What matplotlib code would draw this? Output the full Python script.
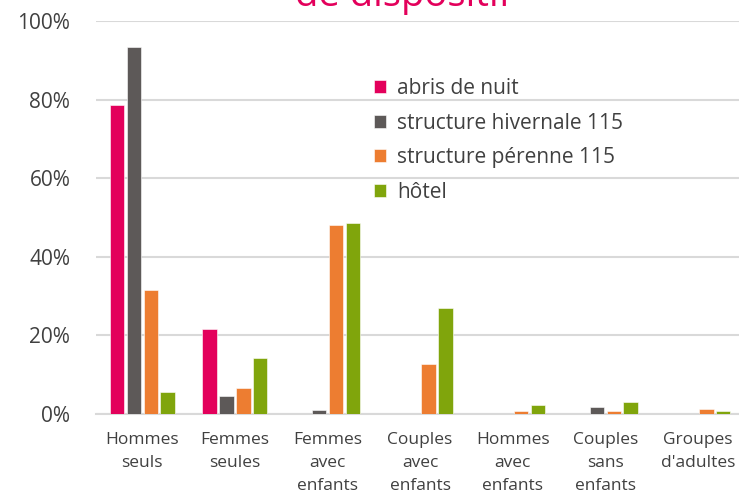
import numpy as np
import matplotlib.pyplot as plt

plt.rcParams['font.family'] = ['Open Sans', 'DejaVu Sans']

# categories and series (share of each household type by type of shelter)
categories = ['Hommes\nseuls', 'Femmes\nseules', 'Femmes\navec\nenfants', 'Couples\navec\nenfants',
              'Hommes\navec\nenfants', 'Couples\nsans\nenfants', 'Groupes\nd\'adultes']
series_names = ['abris de nuit', 'structure hivernale 115', 'structure pérenne 115', 'hôtel']
abris_nuit = [78.6, 21.6, 0.0, 0.0, 0.0, 0.0, 0.0]
hivernale_115 = [93.3, 4.7, 0.9, 0.0, 0.0, 1.8, 0.0]
perenne_115 = [31.6, 6.6, 48.1, 12.7, 0.8, 0.8, 1.3]
hotel = [5.7, 14.2, 48.5, 26.9, 2.2, 3.1, 0.8]
colors = ['#E3005B', '#5D5958', '#ED7D31', '#80A50C']

fig = plt.figure(figsize=(7.39, 4.93), dpi=100)
ax = fig.add_axes([96 / 739, 1 - 414 / 493, 1 - 96 / 739, (414 - 21) / 493])

x = np.arange(len(categories))
step = 0.182
width = 0.155
all_series = [abris_nuit, hivernale_115, perenne_115, hotel]
for i, (vals, name, col) in enumerate(zip(all_series, series_names, colors)):
    ax.bar(x + (i - 1.5) * step, np.array(vals) / 100, width, color=col, label=name,
           edgecolor='white', linewidth=0.4, zorder=3)

ax.set_ylim(0, 1)
ax.set_xlim(-0.5, -0.5 + 643 / 92.6)
ax.set_yticks(np.arange(0, 1.01, 0.2))
ax.set_yticklabels([f'{int(v)}%' for v in np.arange(0, 101, 20)], fontsize=15, color='#404040')
ax.set_xticks(x)
ax.set_xticklabels(categories, fontsize=12.5, color='#404040', linespacing=1.6)
ax.tick_params(axis='x', length=0, pad=13)
ax.tick_params(axis='y', length=0, pad=18.5)
ax.grid(axis='y', color='#D9D9D9', linewidth=1.5, zorder=0)
for s in ['top', 'right', 'left']:
    ax.spines[s].set_visible(False)
ax.spines['bottom'].set_color('#D9D9D9')
ax.spines['bottom'].set_linewidth(1.5)

ax.legend(loc='upper left', bbox_to_anchor=(355 / 739, 1 - 59 / 493), bbox_transform=fig.transFigure,
          frameon=False, fontsize=15, handlelength=0.58, handleheight=0.58, handletextpad=0.55,
          labelspacing=0.66, labelcolor='#404040')

fig.text(403 / 739, 1 - 6 / 493, 'de dispositif', color='#E3005B', fontsize=27.5,
         ha='center', va='baseline')

fig.savefig('out.png', dpi=100)
